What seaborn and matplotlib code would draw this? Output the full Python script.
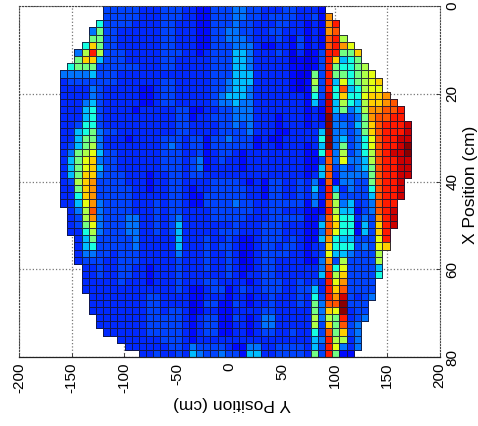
# -*- coding: utf-8 -*-
import numpy as np
import pandas as pd
import seaborn as sns
import matplotlib.pyplot as plt

# HEAT LEVELS, ONE CHARACTER PER CELL ('.' = NO DATA)
level_values = {'0': .10, '1': .135, '2': .165, '3': .195, '4': .24, '5': .31, '6': .375, '7': .49,
                '8': .56, '9': .625, 'a': .69, 'b': .75, 'c': .82, 'd': .88, 'e': .93, 'f': .99}

left_cells = [
    "......333332223332", "......333332223332", ".....6333322223322", "....47332222223322",
    "....77332222223322", "...6a7332222223322", "..48d8333222223332", "..7aa5333222223322",
    ".67773333332223322", "444453332222222222", "233333332222223322", "222243222221123322",
    "222243222221123322", "222453222221123322", "222563222212222233", "222563222222222233",
    "223663222222222233", "225674332222222233", "225774222122223332", "235784222222223432",
    "247895332222223332", "2579a4332222223332", "2579a5332222223332", "257aa4333222122332",
    "238ab3333222122332", "227ab3333322122332", "226ab3333322222332", "2259b4333322232332",
    ".248c4333322232332", ".238b4333442232342", ".23794333442232352", ".22684333442232352",
    "..2573333342222252", "..2563333342222252", "..2443323332222242", "..2333223332222232",
    "...223223322122232", "...223223322122232", "...222223222122232", "...222222222222232",
    "....22222222332222", "....22222222332222", "....22222222332332", ".....2222222333332",
    ".....2222222333332", "......222222333332", "........2222223332", ".........222222332",
    "...........2232232",
]
mid_cells = [
    "211333443322233222", "211333443323333223", "211333433222332212", "211334433223322212",
    "211334443222321312", "211333444211221312", "212333554222320201", "222333554222220101",
    "222333554222221101", "222333555222221007", "222334555222221018", "222334554222221017",
    "222345554222222216", "222344544222222215", "112233444222222212", "122333444222122212",
    "222233434222122212", "222233334222112222", "331334333121122222", "331333333122122212",
    "231233212222222211", "341232212222222211", "341222212222222211", "332222222222222212",
    "222333321213322324", "122333332213322325", "113333332213322324", "113333433223333314",
    "222333333223322211", "222333332223333311", "222222322233322211", "222233322233322211",
    "223223211233323211", "223233211233233212", "223223201233332212", "223223201233222211",
    "223223211233222222", "222223212233222222", "223322221233322323", "112331232233322335",
    "112221221223222326", "013311321223222327", "012211222233222227", "123311321244222228",
    "123311221244222228", "123311221233223226", "122222222222222225", "433332114422333325",
    "543343315522333327",
]
right_cells = [
    "1............", "1b...........", "1bd..........", "1bc..........",
    "1cd8.........", "1cdb9........", "3dd77a.......", "3da567.......",
    "3d76678......", "3d776789.....", "3d596789a....", "3d6c56899....",
    "3e6a669aab...", "2e58658aabc..", "1e57458bbccd.", "1f43347bccdd.",
    "2f44357acddde", "5f44347acddde", "6f453469cddee", "5f473469cddef",
    "6d483468cdeef", "3c494458cddee", "5c343457cddee", "5c244447cddee",
    "1c144337cdde.", "2d524336cdde.", "2d733335cdde.", "1c845234cdd..",
    "1d855134cde..", "3c966243bde..", "5ca66153ade..", "4c966153ad...",
    "5b6553339d...", "3a6663439a...", "395543338....", "4b3833338....",
    "4c6933335....", "5d8a33336....", "2d9b3333.....", "2dac3333.....",
    "3dbe3234.....", "4ccf333......", "4a9f233......", "487d234......",
    "3a7c34.......", "3c7a34.......", "4d8824.......", "3d9424.......",
    "3d711........",
]
x_ticks_cm = [0, 20, 40, 60, 80]
y_ticks_cm = [-200, -150, -100, -50, 0, 50, 100, 150, 200]

# BUILDING THE TABLE
rows = []
for a, b, c in zip(left_cells, mid_cells, right_cells):
    rows.append([level_values.get(ch, np.nan) for ch in a + b + c])
df = pd.DataFrame(rows)

# AXIS RANGE IN CELL UNITS
first_edge = -161.2
cell_cm = 6.815
to_col = lambda v: (v - first_edge) / cell_cm
to_row = lambda v: v * len(rows) / 80.0

plt.rcParams['font.family'] = ['Liberation Sans', 'DejaVu Sans']
fig = plt.figure(figsize=(4.78, 4.26), dpi=100)
ax = fig.add_axes([19.3/478, 1 - 357/426, 420.4/478, 351/426])

# PLOTTING
sns.heatmap(df, ax=ax, cmap='jet', vmin=0, vmax=1, cbar=False, mask=df.isna(),
            linewidths=0.5, linecolor='#14142a', square=False)

# NO EDGES AROUND THE EMPTY CELLS
mesh = ax.collections[0]
edges = np.zeros((df.size, 4))
edges[df.notna().values.ravel()] = (0.08, 0.08, 0.2, 0.85)
mesh.set_edgecolor(edges)

ax.set_xlim(to_col(-200), to_col(200))
ax.set_ylim(to_row(80), to_row(0))

ax.set_xticks([to_col(v) for v in y_ticks_cm])
ax.set_xticklabels(y_ticks_cm, rotation=90, fontsize=11)
ax.set_yticks([to_row(v) for v in x_ticks_cm])
ax.set_yticklabels(x_ticks_cm, rotation=90, va='center', fontsize=11)
ax.yaxis.tick_right()
ax.yaxis.set_label_position('right')
ax.tick_params(axis='both', direction='in', length=3, width=0.6, pad=4, color='#222222')

ax.set_axisbelow(True)
ax.grid(True, linestyle=':', color='#777777', linewidth=0.9)

ax.set_xlabel('Y Position (cm)', rotation=180, fontsize=12.5, labelpad=2, x=.505)
ax.set_ylabel('X Position (cm)', rotation=90, fontsize=12.5, labelpad=3, y=.49)

for side in ['left', 'top', 'right']:
    ax.spines[side].set_visible(True)
    ax.spines[side].set_linestyle(':')
    ax.spines[side].set_linewidth(0.8)
    ax.spines[side].set_color('#444444')
ax.spines['bottom'].set_visible(True)
ax.spines['bottom'].set_linewidth(0.9)
ax.spines['bottom'].set_color('#222222')

plt.savefig('out.png', dpi=100)
